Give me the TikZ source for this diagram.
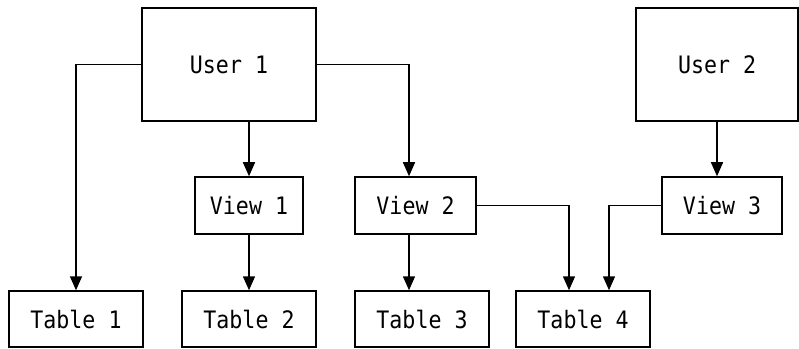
\documentclass[tikz,border=0pt]{standalone}
\usepackage{fontspec}
\newfontfamily\monofnt[FakeStretch=0.9]{DejaVu Sans Mono}
\usetikzlibrary{arrows.meta}
\tikzset{
  box/.style={draw, line width=1.5pt, inner sep=0pt, font=\monofnt\fontsize{24}{26}\selectfont},
  conn/.style={line width=1.5pt, -{Triangle[length=14pt,width=12pt]}},
}
\begin{document}
\begin{tikzpicture}[x=1pt,y=1pt]
\useasboundingbox (0,0) rectangle (799,348);
\node[box, minimum width=174pt, minimum height=113pt] (u1) at (229,283.5) {User 1};
\node[box, minimum width=162pt, minimum height=113pt] (u2) at (717,283.5) {User 2};
\node[box, minimum width=108pt, minimum height=57pt] (v1) at (249,142.5) {View 1};
\node[box, minimum width=121pt, minimum height=57pt] (v2) at (415.5,142.5) {View 2};
\node[box, minimum width=120pt, minimum height=57pt] (v3) at (722,142.5) {View 3};
\node[box, minimum width=134pt, minimum height=56pt] (t1) at (76,29) {Table 1};
\node[box, minimum width=134pt, minimum height=56pt] (t2) at (249,29) {Table 2};
\node[box, minimum width=134pt, minimum height=56pt] (t3) at (422,29) {Table 3};
\node[box, minimum width=134pt, minimum height=56pt] (t4) at (583,29) {Table 4};
\draw[conn] (u1.west) -| (t1.north);
\draw[conn] (u1.south -| v1.north) -- (v1.north);
\draw[conn] (u1.east) -| ([xshift=-6.5pt]v2.north);
\draw[conn] (v1.south) -- (t2.north);
\draw[conn] ([xshift=-6.5pt]v2.south) -- ([xshift=-6.5pt]v2.south |- t3.north);
\draw[conn] (v2.east) -| ([xshift=-14pt]t4.north);
\draw[conn] (v3.west) -| ([xshift=26pt]t4.north);
\draw[conn] (u2.south) -- (u2.south |- v3.north);
\end{tikzpicture}
\end{document}
